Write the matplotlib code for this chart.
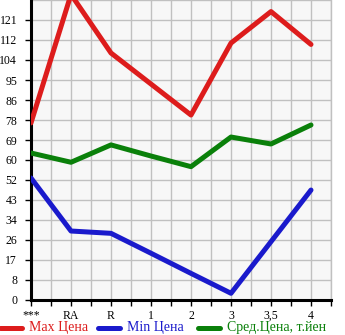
import numpy as np
import matplotlib.pyplot as plt
from matplotlib.lines import Line2D

# categories and prices
grades = ["***", "RA", "R", "1", "2", "3", "3,5", "4"]
max_price = [76.5, 132, 106.7, 93.3, 79.9, 111, 124.6, 110.4]
min_price = [52.7, 29.8, 28.8, 20.2, 11.5, 2.9, 25.2, 47.5]
avg_price = [63.5, 59.5, 67.0, 62.2, 57.6, 70.4, 67.4, 75.6]
y_labels = ["0", "8", "17", "26", "34", "43", "52", "60", "69", "78",
            "86", "95", "104", "112", "121"]

red = "#dd1c1c"
blue = "#1a1acc"
green = "#0a800a"

plt.rcParams["font.family"] = ["Liberation Serif", "DejaVu Serif"]

fig = plt.figure(figsize=(3.45, 3.35), dpi=100)
ax = fig.add_axes([31 / 345, 35 / 335, 300 / 345, 300 / 335])
ax.set_facecolor("#f7f7f7")

x = np.arange(len(grades))
lw = 3.6
ax.plot(x, max_price, color=red, lw=lw, solid_capstyle="round", zorder=3)
ax.plot(x, min_price, color=blue, lw=lw, solid_capstyle="round", zorder=3)
ax.plot(x, avg_price, color=green, lw=lw, solid_capstyle="round", zorder=3)

step = 8.64
ax.set_ylim(0, step * 15)
ax.set_xlim(0, 7.5)
ax.set_yticks(np.arange(len(y_labels)) * step)
ax.set_yticklabels(y_labels)
ax.set_yticks(np.arange(16) * step, minor=True)
ax.set_xticks(x)
ax.set_xticklabels(grades)
ax.set_xticks(np.arange(0, 7.51, 0.5), minor=True)

ax.grid(True, which="both", color="#c0c0c0", lw=1, zorder=1)
ax.set_axisbelow(True)

ax.spines["top"].set_visible(False)
ax.spines["right"].set_color("#c0c0c0")
ax.spines["right"].set_linewidth(1)
ax.spines["left"].set_linewidth(2.2)
ax.spines["bottom"].set_linewidth(2.2)

ax.tick_params(axis="y", which="major", length=4, width=1, pad=6, labelsize=8.5)
ax.tick_params(axis="y", which="minor", length=0)
ax.tick_params(axis="x", which="both", length=4, width=1, pad=3, labelsize=8.5)

# legend drawn along the bottom
items = [(0, red, "Max Цена"), (98, blue, "Min Цена"), (198, green, "Сред.Цена, т.йен")]
ly = 1 - 328 / 335
for px, c, label in items:
    fig.add_artist(Line2D([px / 345, (px + 22) / 345], [ly, ly], color=c,
                          lw=3.6, solid_capstyle="round", transform=fig.transFigure))
    fig.text((px + 29) / 345, ly, label, color=c, fontsize=10, va="center", ha="left")

fig.savefig("out.png", dpi=100)
